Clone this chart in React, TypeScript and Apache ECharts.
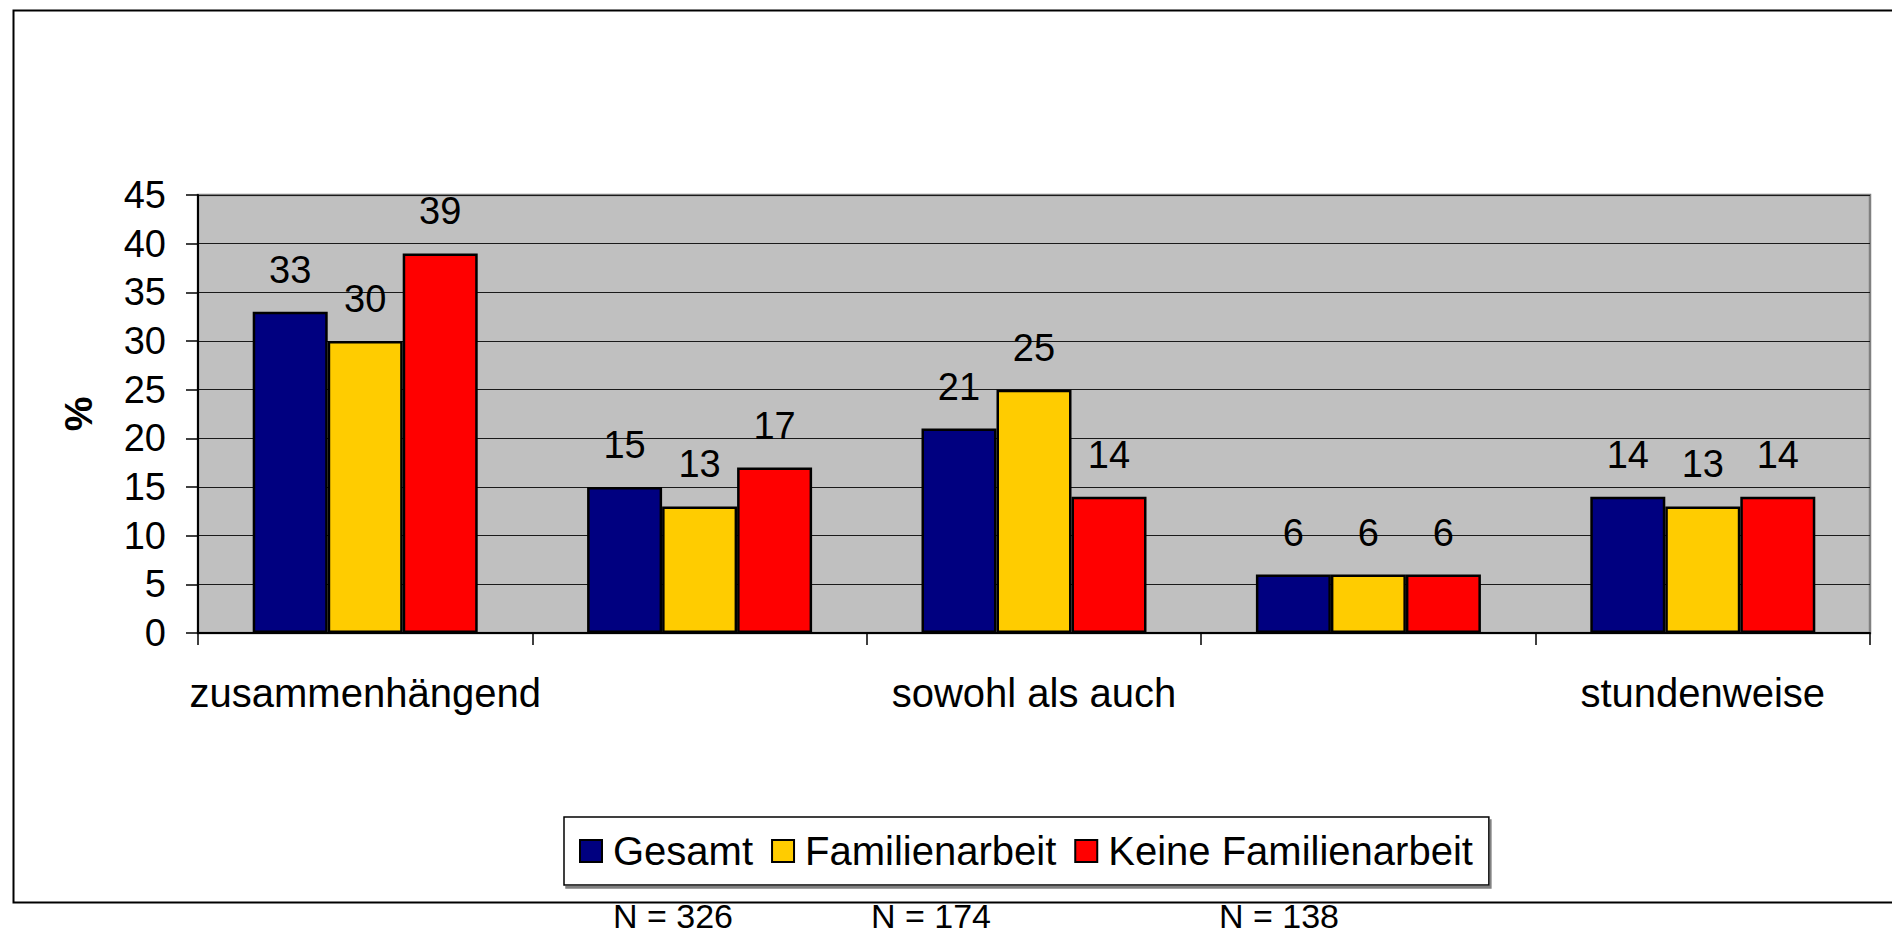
import React, { useEffect, useRef } from "react";
import * as echarts from "echarts";

const categories = [
  "zusammenhängend",
  "eher zusammenhängend",
  "sowohl als auch",
  "eher stundenweise",
  "stundenweise",
];
const seriesNames = ["Gesamt", "Familienarbeit", "Keine Familienarbeit"];
const gesamt = [33, 15, 21, 6, 14];
const familienarbeit = [30, 13, 25, 6, 13];
const keineFamilienarbeit = [39, 17, 14, 6, 14];
const seriesColors = ["#000080", "#FFCC00", "#FF0000"];
const yTicks = { min: 0, max: 45, interval: 5 };
const nLabels = ["N = 326", "N = 174", "N = 138"];
const nLabelX = [613, 871, 1219];

const FONT = "'Liberation Sans', Arial, sans-serif";

export default function App() {
  const ref = useRef<HTMLDivElement>(null);
  useEffect(() => {
    document.body.style.margin = "0";
    if (!ref.current) return;
    const chart = echarts.init(ref.current, null, { renderer: "svg" });
    const values = [gesamt, familienarbeit, keineFamilienarbeit];
    chart.setOption({
      animation: false,
      backgroundColor: "#FFFFFF",
      textStyle: { fontFamily: FONT },
      grid: {
        left: 198,
        top: 195,
        right: 22,
        bottom: 303,
        show: true,
        backgroundColor: "#C0C0C0",
        borderColor: "#808080",
        borderWidth: 2.5,
        containLabel: false,
      },
      legend: {
        data: seriesNames,
        left: 564,
        top: 817,
        orient: "horizontal",
        backgroundColor: "#FFFFFF",
        borderColor: "#000000",
        borderWidth: 1.5,
        borderRadius: 0,
        padding: [14, 16, 14, 15],
        shadowColor: "#808080",
        shadowOffsetX: 2,
        shadowOffsetY: 3,
        shadowBlur: 0,
        itemWidth: 22,
        itemHeight: 22,
        itemGap: 18,
        icon: "rect",
        itemStyle: { borderColor: "#000000", borderWidth: 2 },
        textStyle: {
          fontFamily: FONT,
          fontSize: 40,
          color: "#000000",
          padding: [0, 0, 0, 6],
        },
      },
      xAxis: {
        type: "category",
        data: categories,
        axisLine: { show: true, lineStyle: { color: "#000000", width: 2 } },
        axisTick: {
          show: true,
          length: 12,
          alignWithLabel: false,
          interval: 0,
          lineStyle: { color: "#000000", width: 1.5 },
        },
        axisLabel: {
          interval: 1,
          margin: 40,
          fontSize: 40,
          fontFamily: FONT,
          color: "#000000",
        },
        splitLine: { show: false },
      },
      yAxis: {
        type: "value",
        min: yTicks.min,
        max: yTicks.max,
        interval: yTicks.interval,
        name: "%",
        nameLocation: "middle",
        nameRotate: 90,
        nameGap: 100,
        nameTextStyle: {
          fontFamily: FONT,
          fontSize: 39,
          fontWeight: "bold",
          color: "#000000",
        },
        axisLine: { show: true, lineStyle: { color: "#000000", width: 2 } },
        axisTick: {
          show: true,
          length: 12,
          lineStyle: { color: "#000000", width: 1.5 },
        },
        axisLabel: {
          margin: 32,
          fontSize: 38,
          fontFamily: FONT,
          color: "#000000",
        },
        splitLine: { show: true, lineStyle: { color: "#1a1a1a", width: 1.2 } },
      },
      series: seriesNames.map((name, i) => ({
        name,
        type: "bar",
        data: values[i],
        barWidth: 75,
        barGap: "0%",
        itemStyle: {
          color: seriesColors[i],
          borderColor: "#000000",
          borderWidth: 2.5,
        },
        label: {
          show: true,
          position: "top",
          distance: 23,
          fontSize: 38,
          fontFamily: FONT,
          color: "#000000",
        },
      })),
      graphic: [
        {
          type: "rect",
          left: 11,
          top: 8,
          shape: { width: 1900, height: 892 },
          style: { fill: "none", stroke: "#000000", lineWidth: 2 },
          silent: true,
          z: -1,
        },
        ...nLabels.map((t, i) => ({
          type: "text",
          left: nLabelX[i],
          top: 899,
          style: {
            text: t,
            fontFamily: FONT,
            fontSize: 34,
            lineHeight: 34,
            fill: "#000000",
          },
        })),
      ],
    });
    return () => chart.dispose();
  }, []);
  return <div ref={ref} style={{ width: 1892, height: 936 }} />;
}
